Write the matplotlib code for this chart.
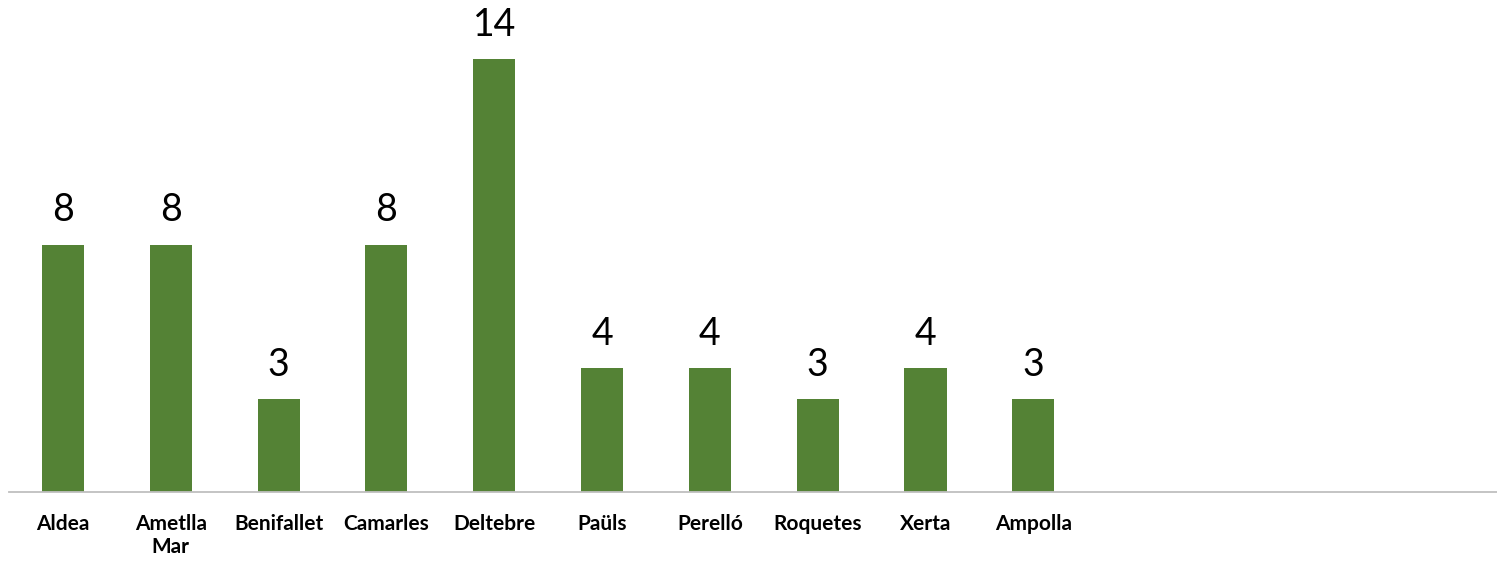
import matplotlib.pyplot as plt

municipis = ["Aldea", "Ametlla\nMar", "Benifallet", "Camarles", "Deltebre",
             "Paüls", "Perelló", "Roquetes", "Xerta", "Ampolla"]
valors = [8, 8, 3, 8, 14, 4, 4, 3, 4, 3]

plt.rcParams['font.family'] = ['Lato', 'DejaVu Sans']

fig = plt.figure(figsize=(14.97, 5.63), dpi=100)
ax = fig.add_axes([9 / 1497, 71 / 563, 1 - 9 / 1497, 492 / 563])

x = list(range(len(municipis)))
bars = ax.bar(x, valors, width=0.39, color="#548235", zorder=2)

for b, v in zip(bars, valors):
    ax.annotate(str(v), (b.get_x() + b.get_width() / 2, v),
                xytext=(0, 12), textcoords="offset points",
                ha="center", va="bottom", fontsize=27, color="black")

ax.set_xlim(-0.5, 13.3)
ax.set_ylim(0, 15.92)
ax.set_xticks(x)
ax.set_xticklabels(municipis, fontsize=15, fontweight="bold", linespacing=1.2)
ax.tick_params(axis="x", length=0, pad=16)
ax.set_yticks([])

for s in ["top", "right", "left"]:
    ax.spines[s].set_visible(False)
ax.spines["bottom"].set_color("#bfbfbf")
ax.spines["bottom"].set_linewidth(1.3)

fig.savefig("out.png", dpi=100)
